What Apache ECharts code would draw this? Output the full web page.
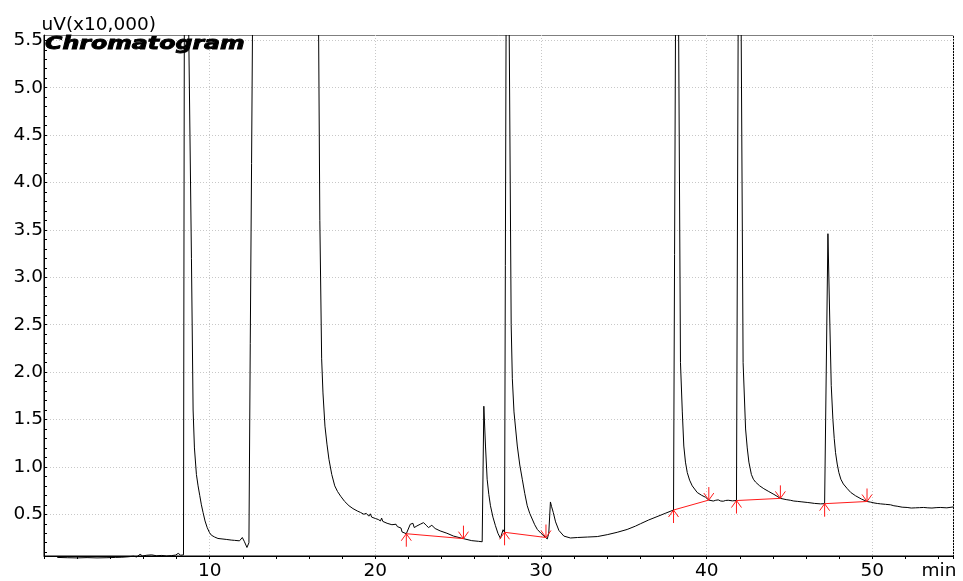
<!DOCTYPE html>
<html>
<head>
<meta charset="utf-8">
<script src="https://cdn.jsdelivr.net/npm/echarts@6/dist/echarts.min.js"></script>
<style>
  html, body { margin: 0; padding: 0; background: #ffffff; }
  #chart { width: 963px; height: 581px; }
</style>
</head>
<body>
<div id="chart"></div>
<script>
// Detector trace: [retention time (min), signal (uV x 10,000)]
const chromatogram = [
  [0.80, 0.045], [1.40, 0.042], [2.00, 0.040], [2.60, 0.043], [3.20, 0.040], [3.80, 0.042], [4.30, 0.045],
  [4.70, 0.047], [5.10, 0.052], [5.40, 0.058], [5.60, 0.050], [5.80, 0.078], [5.95, 0.060], [6.20, 0.068],
  [6.50, 0.072], [6.80, 0.062], [7.10, 0.066], [7.40, 0.060], [7.70, 0.064], [7.95, 0.070], [8.10, 0.088],
  [8.25, 0.068], [8.42, 0.072],
  // peak ~8.5 min (off scale)
  [8.50, 9.00], [8.90, 3.20], [9.00, 1.60], [9.08, 1.20], [9.20, 0.92], [9.30, 0.80], [9.40, 0.70],
  [9.50, 0.60], [9.60, 0.52], [9.72, 0.43], [9.85, 0.36], [9.98, 0.31], [10.10, 0.28], [10.30, 0.26],
  [10.50, 0.245], [11.00, 0.235], [11.30, 0.228], [11.50, 0.225], [11.80, 0.220], [11.97, 0.255],
  [12.10, 0.210], [12.25, 0.150], [12.32, 0.130],
  // solvent front 12.4 - 16.6 min (off scale)
  [12.37, 0.200], [12.45, 2.30], [12.53, 4.20], [12.72, 9.00], [13.50, 14.0], [14.80, 16.0], [15.80, 13.0],
  [16.45, 9.00], [16.65, 3.60], [16.76, 2.14], [16.84, 1.78], [16.96, 1.43], [17.08, 1.24], [17.20, 1.08],
  [17.37, 0.92], [17.55, 0.80], [17.72, 0.74], [17.91, 0.69], [18.15, 0.635], [18.41, 0.59], [18.65, 0.56],
  [18.91, 0.535], [19.10, 0.52], [19.31, 0.50], [19.45, 0.51], [19.52, 0.49], [19.61, 0.48], [19.70, 0.505],
  [19.78, 0.47], [20.01, 0.455], [20.10, 0.47], [20.18, 0.445], [20.31, 0.43], [20.38, 0.46], [20.45, 0.425],
  [20.71, 0.405], [21.00, 0.39], [21.11, 0.385], [21.25, 0.395], [21.33, 0.37], [21.41, 0.36], [21.55, 0.355],
  [21.61, 0.314], [21.87, 0.295], [21.95, 0.30],
  // hump 22 - 25 min
  [22.11, 0.395], [22.27, 0.405], [22.35, 0.36], [22.51, 0.377], [22.71, 0.395], [22.91, 0.412], [23.07, 0.384],
  [23.21, 0.36], [23.41, 0.384], [23.61, 0.35], [23.91, 0.325], [24.32, 0.30], [24.72, 0.27], [25.32, 0.243],
  [25.82, 0.222], [26.22, 0.215], [26.45, 0.21],
  // peak ~26.5 min
  [26.55, 1.64], [26.65, 1.22], [26.75, 0.87], [26.85, 0.71], [26.95, 0.59], [27.10, 0.47], [27.25, 0.38],
  [27.40, 0.30], [27.55, 0.246], [27.71, 0.337], [27.80, 0.31], [27.86, 0.30],
  // peak ~27.9 min (off scale)
  [27.95, 9.00], [28.20, 2.50], [28.27, 1.93], [28.37, 1.58], [28.57, 1.22], [28.72, 1.02], [28.87, 0.87],
  [29.02, 0.72], [29.17, 0.59], [29.32, 0.51], [29.47, 0.45], [29.62, 0.39], [29.78, 0.34], [30.00, 0.30],
  [30.18, 0.27], [30.30, 0.255], [30.38, 0.24],
  // peak ~30.6 min
  [30.47, 0.30], [30.57, 0.63], [30.64, 0.58], [30.74, 0.52], [30.88, 0.42], [31.08, 0.33], [31.38, 0.27],
  [31.78, 0.25], [32.20, 0.255], [32.80, 0.26], [33.40, 0.265], [34.00, 0.285], [34.60, 0.31], [35.20, 0.34],
  [35.70, 0.375], [36.00, 0.40], [36.50, 0.44], [37.00, 0.475], [37.50, 0.51], [38.00, 0.545], [38.12, 0.555],
  // peak ~38.2 min (off scale)
  [38.20, 9.00], [38.42, 2.10], [38.53, 1.58], [38.62, 1.22], [38.72, 1.05], [38.83, 0.94], [38.97, 0.86],
  [39.13, 0.80], [39.43, 0.73], [39.70, 0.70], [39.93, 0.68], [40.13, 0.65], [40.40, 0.64], [40.55, 0.648],
  [40.70, 0.652], [40.85, 0.640], [41.00, 0.638], [41.15, 0.646], [41.30, 0.648], [41.55, 0.642], [41.80, 0.645],
  [41.88, 0.65],
  // peak ~42.0 min (off scale)
  [41.97, 9.00], [42.20, 2.10], [42.35, 1.40], [42.45, 1.20], [42.55, 1.05], [42.70, 0.92], [42.82, 0.87],
  [42.95, 0.84], [43.20, 0.80], [43.45, 0.77], [43.75, 0.74], [44.06, 0.71], [44.25, 0.69], [44.45, 0.668],
  [44.80, 0.655], [45.05, 0.648], [45.26, 0.64], [45.50, 0.636], [45.70, 0.632], [46.07, 0.625], [46.30, 0.62],
  [46.50, 0.615], [46.87, 0.61], [47.12, 0.612], [47.20, 0.62],
  // peak ~47.3 min
  [47.32, 3.46], [47.43, 2.56], [47.52, 1.86], [47.62, 1.50], [47.70, 1.30], [47.78, 1.15], [47.88, 1.03],
  [47.98, 0.94], [48.10, 0.87], [48.18, 0.865], [48.25, 0.82], [48.49, 0.77], [48.70, 0.73], [48.99, 0.695],
  [49.35, 0.66], [49.68, 0.635], [49.90, 0.628], [50.10, 0.62], [50.30, 0.614], [50.50, 0.61], [50.80, 0.605],
  [51.10, 0.60], [51.30, 0.59], [51.50, 0.585], [51.80, 0.575], [52.10, 0.572], [52.35, 0.566], [52.60, 0.568],
  [52.85, 0.57], [53.10, 0.572], [53.35, 0.568], [53.60, 0.566], [53.85, 0.57], [54.10, 0.572], [54.50, 0.568],
  [54.90, 0.578]
];

// Integration baselines: start and end of each peak
const baselineStartTime = [21.87, 27.80, 38.00, 41.80, 47.12];
const baselineStartSignal = [0.295, 0.31, 0.545, 0.645, 0.612];
const baselineEndTime = [25.32, 30.30, 40.13, 44.45, 49.68];
const baselineEndSignal = [0.243, 0.255, 0.65, 0.668, 0.635];

// Axis labels
const xTickLabels = [10, 20, 30, 40, 50];
const yTickLabels = [0.5, 1.0, 1.5, 2.0, 2.5, 3.0, 3.5, 4.0, 4.5, 5.0, 5.5];

const FONT = '"DejaVu Sans", "Liberation Sans", sans-serif';
const RED = '#ff1a1a';
const Y_MIN = 0.06, Y_MAX = 5.556;

const baselines = baselineStartTime.map((t, i) =>
  [t, baselineStartSignal[i], baselineEndTime[i], baselineEndSignal[i]]);

const yMinorTicks = [];
for (let k = 1; k <= 55; k++) yMinorTicks.push(k / 10);

const chart = echarts.init(document.getElementById('chart'), null, { renderer: 'canvas' });

chart.setOption({
  animation: false,
  backgroundColor: '#ffffff',
  grid: {
    left: 44, right: 9.5, top: 35, bottom: 25,
    containLabel: false,
    outerBoundsMode: 'none',
    show: true,
    borderColor: '#000000',
    borderWidth: 1,
    backgroundColor: 'transparent'
  },
  xAxis: {
    type: 'value',
    min: 0, max: 54.9, interval: 10,
    axisLine: { show: true, lineStyle: { color: '#000', width: 1 } },
    axisTick: { show: true, inside: false, length: 3, lineStyle: { color: '#000' } },
    minorTick: { show: true, splitNumber: 5, length: 3, lineStyle: { color: '#000' } },
    axisLabel: {
      customValues: xTickLabels,
      color: '#000', fontFamily: FONT, fontSize: 18.5, margin: 6
    },
    splitLine: { show: true, lineStyle: { color: '#c8c8c8', type: [1, 2], width: 1 } },
    minorSplitLine: { show: false }
  },
  yAxis: [
    {
      type: 'value',
      min: Y_MIN, max: Y_MAX,
      axisLine: { show: true, lineStyle: { color: '#000', width: 1 } },
      axisTick: { show: true, inside: true, length: 3, customValues: yTickLabels, lineStyle: { color: '#000' } },
      axisLabel: {
        customValues: yTickLabels,
        formatter: v => v.toFixed(1),
        color: '#000', fontFamily: FONT, fontSize: 18.5, margin: 1
      },
      splitLine: { show: true, lineStyle: { color: '#c8c8c8', type: [1, 2], width: 1 } }
    },
    {
      type: 'value',
      min: Y_MIN, max: Y_MAX,
      position: 'left',
      axisLine: { show: false },
      axisTick: { show: true, inside: true, length: 3, customValues: yMinorTicks, lineStyle: { color: '#000' } },
      axisLabel: { show: false },
      splitLine: { show: false }
    }
  ],
  series: [
    {
      name: 'Chromatogram',
      type: 'line',
      data: chromatogram,
      showSymbol: false,
      symbol: 'none',
      clip: false,
      sampling: false,
      lineStyle: { color: '#000000', width: 1 },
      z: 3
    },
    {
      name: 'Baseline',
      type: 'custom',
      data: baselines,
      encode: { x: [0, 2], y: [1, 3] },
      clip: false,
      z: 4,
      renderItem: function (params, api) {
        const a = api.coord([api.value(0), api.value(1)]);
        const b = api.coord([api.value(2), api.value(3)]);
        const st = { stroke: RED, lineWidth: 1, fill: null };
        return {
          type: 'group',
          children: [
            { type: 'line', shape: { x1: a[0], y1: a[1], x2: b[0], y2: b[1] }, style: st },
            // peak start: upward arrow, shaft below the point
            { type: 'line', shape: { x1: a[0], y1: a[1], x2: a[0], y2: a[1] + 13 }, style: st },
            { type: 'polyline', shape: { points: [[a[0] - 5, a[1] + 7], [a[0], a[1]], [a[0] + 5, a[1] + 7]] }, style: st },
            // peak end: downward arrow, shaft above the point
            { type: 'line', shape: { x1: b[0], y1: b[1], x2: b[0], y2: b[1] - 13 }, style: st },
            { type: 'polyline', shape: { points: [[b[0] - 5, b[1] - 7], [b[0], b[1]], [b[0] + 5, b[1] - 7]] }, style: st }
          ]
        };
      }
    }
  ],
  graphic: [
    // masks off-scale peaks above the plot frame
    { type: 'rect', z: 50, silent: true, shape: { x: 44.5, y: 0, width: 918.5, height: 35 }, style: { fill: '#ffffff' } },
    {
      type: 'text', z: 60, x: 41.5, y: 25,
      style: { text: 'uV(x10,000)', font: '18.5px ' + FONT, fill: '#000', textAlign: 'left', textVerticalAlign: 'middle' }
    },
    {
      type: 'text', z: 60, x: 45, y: 44.5, scaleX: 1.28,
      style: {
        text: 'Chromatogram', font: 'italic bold 18.5px ' + FONT, fill: '#000',
        stroke: '#000', lineWidth: 0.9, textAlign: 'left', textVerticalAlign: 'middle'
      }
    },
    {
      type: 'text', z: 60, x: 921.5, y: 571.5,
      style: { text: 'min', font: '18.5px ' + FONT, fill: '#000', textAlign: 'left', textVerticalAlign: 'middle' }
    }
  ]
});
</script>
</body>
</html>
